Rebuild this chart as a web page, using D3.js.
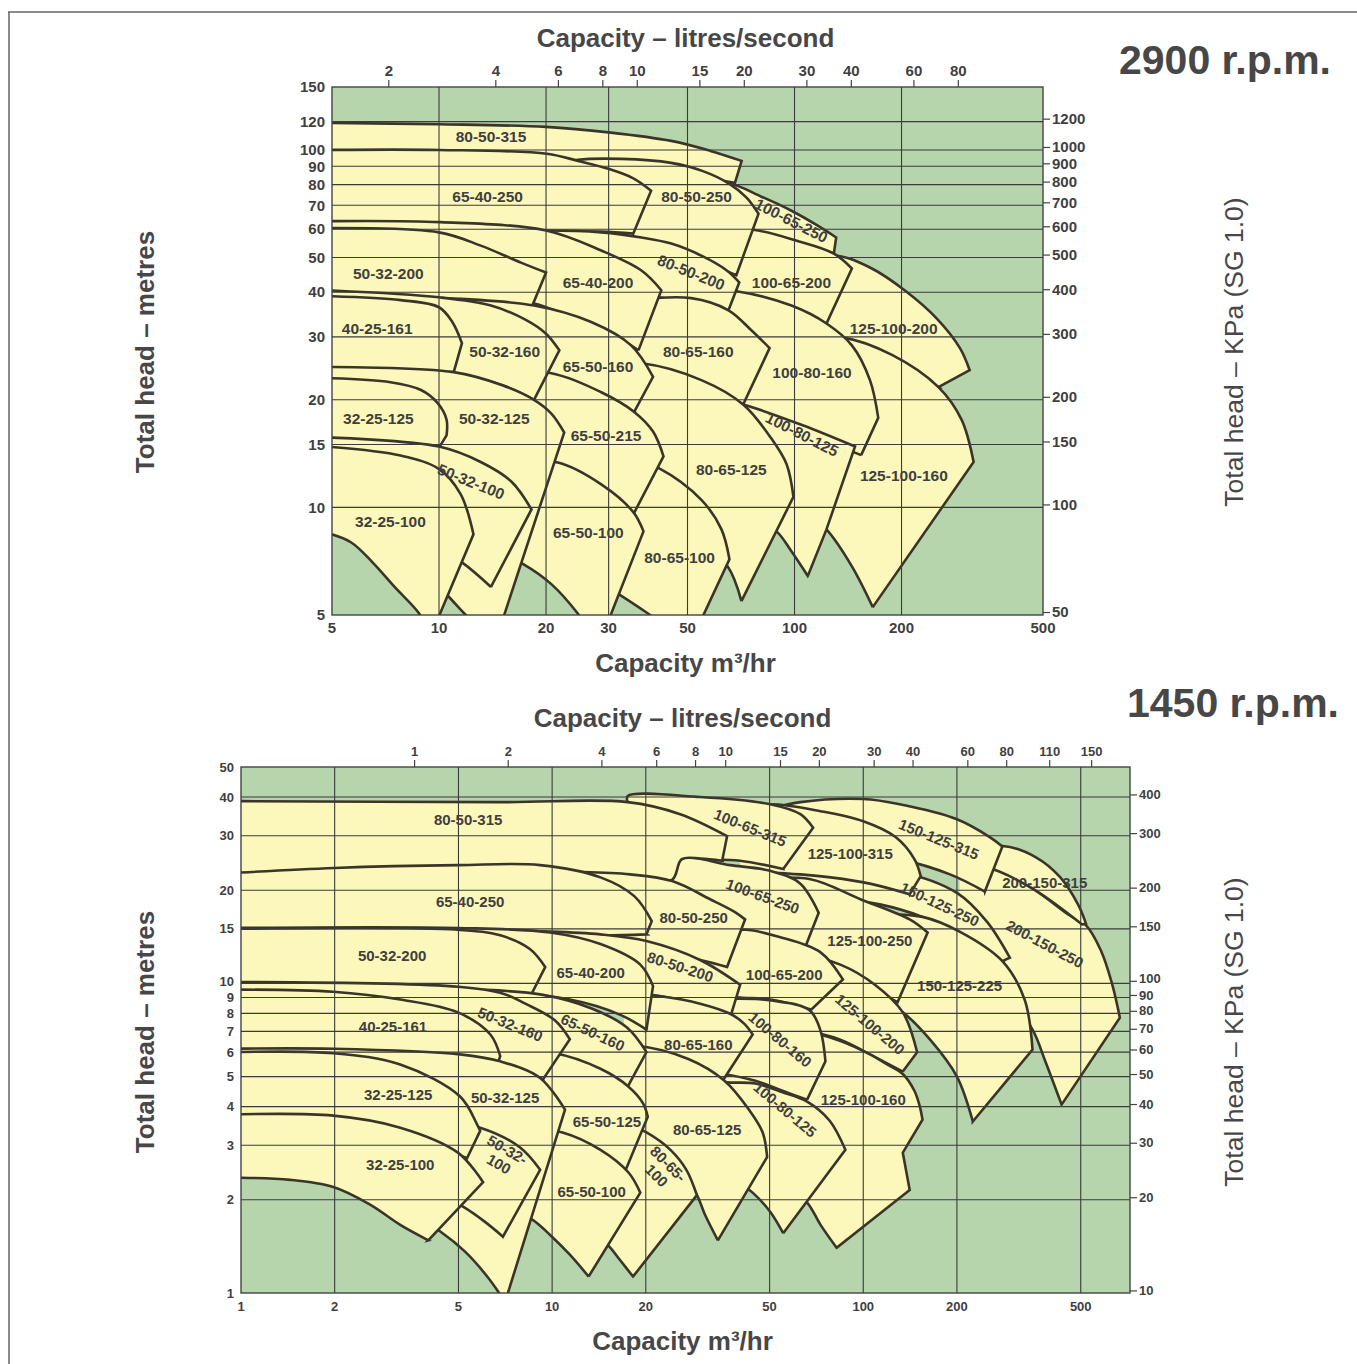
<!DOCTYPE html>
<html>
<head>
<meta charset="utf-8">
<script src="https://cdnjs.cloudflare.com/ajax/libs/d3/7.8.5/d3.min.js"></script>
<style>
  body { margin: 0; background: #fff; }
  svg text { font-family: "Liberation Sans", Arial, Helvetica, sans-serif; }
</style>
</head>
<body>
<svg id="chart" width="1357" height="1364"></svg>
<script>
// ---------------- 2900 r.p.m. ----------------
const q2900Ticks = [5, 10, 20, 30, 50, 100, 200, 500];
const h2900Ticks = [5, 10, 15, 20, 30, 40, 50, 60, 70, 80, 90, 100, 120, 150];
const q2900Grid = [10, 20, 30, 50, 100, 200];
const h2900Grid = [10, 15, 20, 30, 40, 50, 60, 70, 80, 90, 100, 120];
const ls2900Ticks = [2, 4, 6, 8, 10, 15, 20, 30, 40, 60, 80];
const kpa2900Ticks = [50, 100, 150, 200, 300, 400, 500, 600, 700, 800, 900, 1000, 1200];

// pump areas, back to front: max impeller curve (top), end-of-curve edge, min impeller curve (bottom)
const regions2900 = [
  { name: "125-100-200", top: [[105,48.4],[131,50.6],[165,46.6],[204,40.5],[251,33.8],[292,27.9],[311,24.2]], edge: [[254,21.7]], bottom: [[200,25],[154,28.4],[105,30.3]] },
  { name: "80-50-315", top: [[4.8,119],[10,118],[20,116],[30,112],[45,106],[58,99.4],[71,93.2]], edge: [[68,80.9]], bottom: [[55,83.3],[33,86.2],[15,88.4],[4.8,89.6]] },
  { name: "100-65-250", top: [[55,78.6],[65.6,80.4],[80.7,74],[98,67.6],[115,61.8],[131,56.9]], edge: [[129,51.3]], bottom: [[98,55.8],[77,58.8],[55,58.8]] },
  { name: "100-65-200", top: [[55,60],[76.5,59.8],[101,55.8],[129,51.3],[145,46.6]], edge: [[123,32.7]], bottom: [[92,35.6],[71,38],[55,39.2]] },
  { name: "80-50-250", top: [[19.4,88.4],[24.6,93.8],[32.6,94.4],[45,92],[55,87.4],[65.6,80.4],[73.3,73.6],[79.2,66.3]], edge: [[68.6,44.6]], bottom: [[55,48.4],[37.1,53],[25.1,55.8],[19.4,56.5]] },
  { name: "65-40-250", top: [[4.8,100],[10,100],[20.1,97.6],[24.6,93.2],[30.1,88.4],[35.2,83.3],[39.5,76.9]], edge: [[35.2,58.4]], bottom: [[28.6,59.1],[20,59.1],[10.1,60.2],[4.8,60.2]] },
  { name: "125-100-160", top: [[98,29.4],[136,29.9],[188,26.7],[254,21.7],[295,17.6],[319,13.4]], edge: [[166,5.26]], bottom: [[145,6.84],[123,8.68],[98,10.5]] },
  { name: "100-80-160", top: [[42.2,40.5],[54.7,40.7],[69.3,40.2],[98,36.7],[123,32.7],[145,28.4],[163,22.7],[172,17.8]], edge: [[154,14]], bottom: [[105,16.3],[71.7,19.1],[54.7,20.2],[42.2,20.6]] },
  { name: "80-50-200", top: [[10.1,58.4],[20,59.5],[28.6,58.8],[37.1,56.9],[45,54.7],[54.7,50.6],[64.5,46],[69.9,42.6]], edge: [[65.2,35.6]], bottom: [[51,37.4],[37,39.2],[20,40],[10.1,40.5]] },
  { name: "80-65-160", top: [[35,38],[51.2,38.5],[65.2,35.6],[75.6,31.3],[85.1,27.9]], edge: [[71.7,19.4]], bottom: [[54.7,22],[39.5,24.2],[35,24.5]] },
  { name: "65-40-200", top: [[4.8,63.2],[10.1,62.8],[20,59.5],[28.6,52.3],[37.1,46],[42.2,40.5]], edge: [[36.4,27.5]], bottom: [[28.6,31.7],[22.1,34.9],[18.5,37.2],[10.1,38.7],[4.8,38.5]] },
  { name: "50-32-200", top: [[4.8,60.5],[10,58.8],[13.1,54],[17,48.4],[20,45.4]], edge: [[17.6,33.4]], bottom: [[13.1,36.7],[10,38.5],[4.8,38]] },
  { name: "100-80-125", top: [[54.7,20.6],[71.7,19.4],[105,17],[148,14.8]], edge: [[123,8.68],[109,6.43]], bottom: [[98,7.54],[89,8.57],[75.6,9.44],[62.3,10.2]] },
  { name: "80-65-125", top: [[28.6,25],[37.1,25.3],[54.7,22.7],[71.7,19.4],[86,15.6],[95,13.2],[99.3,10.7]], edge: [[70.9,5.47]], bottom: [[64.8,6.84],[54.7,7.89],[42.2,8.97],[32.6,9.56]] },
  { name: "80-65-100", top: [[32.6,14],[41.4,12.9],[54.7,10.5],[62.3,8.68],[65.6,7.16]], edge: [[51.6,4.29]], bottom: [[45,4.55],[38.8,5.04],[31,5.83],[26.8,6.3]] },
  { name: "65-50-160", top: [[10.1,38.5],[18.5,36.7],[26.8,33],[34.7,28.4],[40,23.2]], edge: [[35.4,18.5]], bottom: [[28.6,20.6],[20.4,23.2],[10.1,24.2]] },
  { name: "65-50-215", top: [[11.5,24.2],[20.4,23.8],[28.6,21],[35.4,18.5],[40,16.3],[42.8,13.9]], edge: [[35.2,9.56]], bottom: [[28.6,11.2],[21.6,13.1],[15,13.6]] },
  { name: "65-50-100", top: [[17,13.4],[21.6,13.35],[28.6,11.6],[35.2,9.7],[37.6,8.57]], edge: [[30.5,5.04],[27.9,4.29]], bottom: [[26,4.65],[24.6,5.04],[20.7,6.1],[17.3,6.93],[15,7.4]] },
  { name: "50-32-160", top: [[4.8,40.5],[10,38.7],[14,36.7],[17.6,33.4],[20,30.6],[21.8,27.5]], edge: [[18.5,20]], bottom: [[15,22],[11,23.6],[4.8,23.5]] },
  { name: "40-25-161", top: [[4.8,39],[7.8,38],[10,36.3],[10.9,33],[11.6,28.8]], edge: [[11,23.9]], bottom: [[7.8,23.9],[4.8,23.9]] },
  { name: "50-32-125", top: [[4.8,24.7],[11,23.9],[15,22],[18.5,20],[20.7,18.3],[22.5,16.2]], edge: [[14.5,4.29]], bottom: [[13.1,4.55],[11.8,5.04],[10.6,5.65],[9.5,6.3],[7.8,7.16],[6.03,8.14],[4.8,9.13]] },
  { name: "32-25-125", top: [[4.8,23],[7.3,22.4],[8.9,21.3],[9.9,19.6],[10.5,17.6],[10.5,15.9]], edge: [[10,14.7]], bottom: [[7.8,14.9],[4.8,14.9]] },
  { name: "50-32-100", top: [[4.8,15.7],[10,14.8],[13.1,13.4],[16,11.8],[18.2,9.87]], edge: [[14,5.99]], bottom: [[11.6,7.02],[9.5,7.89],[6.86,8.68],[4.8,9.1]] },
  { name: "32-25-100", top: [[4.8,14.8],[7.8,13.96],[10,12.8],[11.5,10.9],[12.5,8.41]], edge: [[9.4,4.29]], bottom: [[9.1,4.68],[8.8,5.04],[7.5,5.99],[6.5,7.02],[5.65,7.99],[4.8,8.5]] }
];

// [text, m3/hr, head m, tilt]
const labels2900 = [
  ["80-50-315", 14, 109, 0], ["65-40-250", 13.7, 74, 0], ["80-50-250", 53, 74, 0],
  ["100-65-250", 98, 63.4, 27], ["80-50-200", 51.2, 45.4, 22], ["100-65-200", 98, 42.6, 0],
  ["50-32-200", 7.2, 45, 0], ["65-40-200", 28, 42.6, 0], ["125-100-200", 190, 31.7, 0],
  ["40-25-161", 6.7, 31.7, 0], ["50-32-160", 15.3, 27.3, 0], ["65-50-160", 28, 24.7, 0],
  ["80-65-160", 53.6, 27.2, 0], ["100-80-160", 112, 23.8, 0], ["32-25-125", 6.75, 17.7, 0],
  ["50-32-125", 14.3, 17.7, 0], ["65-50-215", 29.5, 15.9, 0], ["100-80-125", 105, 16, 27],
  ["80-65-125", 66.4, 12.8, 0], ["125-100-160", 203, 12.3, 0], ["50-32-100", 12.3, 11.8, 22],
  ["32-25-100", 7.3, 9.1, 0], ["65-50-100", 26.3, 8.5, 0], ["80-65-100", 47.5, 7.26, 0]
];

// ---------------- 1450 r.p.m. ----------------
const q1450Ticks = [1, 2, 5, 10, 20, 50, 100, 200, 500];
const h1450Ticks = [1, 2, 3, 4, 5, 6, 7, 8, 9, 10, 15, 20, 30, 40, 50];
const q1450Grid = [2, 5, 10, 20, 50, 100, 200, 500];
const h1450Grid = [2, 3, 4, 5, 6, 7, 8, 9, 10, 15, 20, 30, 40];
const ls1450Ticks = [1, 2, 4, 6, 8, 10, 15, 20, 30, 40, 60, 80, 110, 150];
const kpa1450Ticks = [10, 20, 30, 40, 50, 60, 70, 80, 90, 100, 150, 200, 300, 400];

const regions1450 = [
  { name: "200-150-250", top: [[204,21.7],[246,23.8],[343,20.5],[460,16.6],[520,15.4],[580,12.8],[630,10],[668,7.75]], edge: [[434,4.06]], bottom: [[383,5.67],[350,7.09],[296,8.87],[237,9.9],[204,10.3]] },
  { name: "200-150-315", top: [[204,25.7],[280,27.8],[360,25.5],[430,22],[490,18],[520,15.6]], edge: [[505,15.5]], bottom: [[343,20.5],[246,23.8],[204,24.1]] },
  { name: "150-125-315", top: [[50.2,36.6],[62.8,38.5],[100,39.4],[131,37.9],[200,33.9],[255,29.7],[280,27.7]], edge: [[246,19.8]], bottom: [[190,22.5],[131,25.2],[90.8,26.7],[62.8,28.2],[50.2,28.8]] },
  { name: "150-125-250", top: [[62.8,23.4],[90.8,23.4],[131,22.9],[200,19.6],[250,15.8],[296,12.1]], edge: [[280,11.8]], bottom: [[204,14.4],[155,16.4],[113,18],[84.4,18.7],[62.8,19]] },
  { name: "150-125-225", top: [[113,16.7],[155,16.4],[204,14.7],[280,11.8],[330,8.87],[350,6.11]], edge: [[225,3.58]], bottom: [[200,5],[164,6.58],[134,8.06],[113,8.87]] },
  { name: "125-100-315", top: [[40.2,36.6],[50.2,37.9],[72.9,36],[100,33.4],[127,29.7],[146,25.2],[153,22.2]], edge: [[141,19.4]], bottom: [[105,21],[78.5,22],[62.8,22.5],[40.2,23.1]] },
  { name: "125-100-250", top: [[46.7,21.7],[67.7,21.7],[97.9,18.7],[141,16.1],[161,14.6]], edge: [[129,8.7]], bottom: [[97.9,9.9],[72.9,10.7],[54.1,11.1]] },
  { name: "100-65-315", top: [[17.5,38.4],[17.5,40.3],[29.9,40],[50.2,37.9],[62.8,35.2],[69,31.8]], edge: [[55.3,23.4]], bottom: [[40.2,24.9],[29.9,25.2],[22.2,25.7],[17.5,25.7]] },
  { name: "125-100-200", top: [[46.7,12.4],[62.8,12.4],[84.4,11.5],[109,9.9],[134,8.06],[149,5.99]], edge: [[134,5.19]], bottom: [[105,5.9],[84.4,6.58],[62.8,7.09],[46.7,7.37]] },
  { name: "100-65-250", top: [[24.3,21.4],[26.1,25.2],[37.3,24.1],[50.2,23.1],[62.8,21],[71.9,16.9]], edge: [[65.1,13.1]], bottom: [[50.2,13.9],[34.7,14.7],[25.8,14.9],[22.2,14.9]] },
  { name: "100-65-200", top: [[33.4,14.4],[41.7,14.9],[54.1,14.1],[72.9,12.6],[86,10.3]], edge: [[68,8.23]], bottom: [[50.2,8.87],[40.2,9],[33.4,9.2]] },
  { name: "80-50-315", top: [[0.92,38.8],[6.81,38.5],[17.5,38.5],[25.8,35.2],[36.5,29.9]], edge: [[35.2,24.9]], bottom: [[30,25.3],[26.1,25.2],[24.3,21.6],[19.2,21.6],[14.3,22],[5.06,22.2],[0.92,22.2]] },
  { name: "80-50-250", top: [[9.15,22.9],[12.3,22.9],[17.8,22.5],[24.3,21.4],[32.2,18.7],[38.7,17],[41.7,16.1]], edge: [[36.5,11.3]], bottom: [[29.9,11.9],[22.2,12.4],[16.5,12.7],[10.6,12.9]] },
  { name: "65-40-250", top: [[0.92,22.7],[2,23.6],[4.98,24.1],[9.15,24.1],[14.3,22],[18.4,19.1],[20.9,15.9]], edge: [[20.1,14.4]], bottom: [[14.3,14.3],[9.85,14.5],[5.06,14.5],[0.92,14.5]] },
  { name: "125-100-160", top: [[35,7.4],[55,7.2],[70,6.9],[85,6.5],[105,5.9],[122,5.4],[134,5.1],[146,4.5],[152,4],[155,3.63]], edge: [[134,2.84],[141,2.15],[82.1,1.4]], bottom: [[72.9,1.66],[66,1.96],[58.3,2.15],[45,2.5],[35,2.8]] },
  { name: "100-80-160", top: [[25,8.6],[35,8.9],[45,8.9],[55,8.7],[62,8.5],[68,8.1],[73,7],[75.6,5.6]], edge: [[66,4.21]], bottom: [[55,4.5],[45,4.85],[35,5.1],[25,5.2]] },
  { name: "80-50-200", top: [[5.06,14.8],[9.85,14.7],[14.3,14.4],[20.1,13.7],[29.9,11.9],[40.2,9.9]], edge: [[37.6,7.93]], bottom: [[29.9,8.55],[20.6,9.2],[14.3,9.55],[5.06,9.7]] },
  { name: "80-65-160", top: [[17,9.3],[22,9.1],[29.9,8.6],[37.6,7.95],[41.5,7.4],[44.1,6.84]], edge: [[35.2,4.82]], bottom: [[27.4,5.45],[19.7,6],[17,6.1]] },
  { name: "65-40-200", top: [[0.92,15.1],[4.98,15.1],[9.85,14.6],[14.3,13.4],[19.2,11.5],[21.1,9.8]], edge: [[20.1,7.09]], bottom: [[16.5,7.93],[11.4,8.87],[5.06,9.55],[0.92,9.7]] },
  { name: "50-32-200", top: [[0.92,15],[4.98,14.9],[6.81,14.3],[8.5,12.9],[9.5,11.3]], edge: [[8.18,8.4]], bottom: [[6.33,9.2],[4.98,9.7],[0.92,9.9]] },
  { name: "100-80-125", top: [[27,5.1],[36,4.8],[45,4.75],[55,4.45],[66,4.15],[78,3.6],[87.6,2.9]], edge: [[55.3,1.56]], bottom: [[50.2,1.83],[44.1,2.11],[38.7,2.32],[30,2.6],[27,2.7]] },
  { name: "80-65-125", top: [[14.3,6.25],[18.5,6.3],[27.4,5.7],[35.8,4.85],[43,3.9],[47.5,3.3],[49.1,2.75]], edge: [[34.1,1.48]], bottom: [[31,1.79],[29.2,2.07],[26,2.45],[22,2.9],[18,3.2],[15,3.4]] },
  { name: "80-65-100", top: [[14,3.8],[16.5,3.6],[20.1,3.3],[24,2.9],[27,2.5],[29.2,2.07]], edge: [[18.2,1.13]], bottom: [[16.5,1.28],[15.3,1.41],[13.3,1.6],[12,1.7]] },
  { name: "65-50-160", top: [[5,9.6],[9.25,9.2],[13.4,8.3],[17.4,7.2],[20.1,6]], edge: [[17.5,4.64]], bottom: [[14.3,5.15],[10.2,5.8],[5,6.05]] },
  { name: "65-50-125", top: [[5.75,6.05],[10.2,5.95],[14.3,5.3],[17.6,4.64],[19.6,4.1],[20.3,3.71]], edge: [[17.1,2.45]], bottom: [[14.3,2.8],[10.8,3.27],[7.5,3.4]] },
  { name: "65-50-100", top: [[8.5,3.4],[10.8,3.3],[14.3,2.9],[17.6,2.45],[19.2,2.11]], edge: [[13.1,1.13]], bottom: [[11.4,1.33],[9.85,1.54],[8.68,1.72],[7.6,1.83]] },
  { name: "50-32-160", top: [[0.92,10.1],[5,9.75],[7,9.25],[8.2,8.6],[10.2,7.6],[11.4,6.6]], edge: [[9.35,4.9]], bottom: [[7.5,5.4],[5.5,5.8],[0.92,5.8]] },
  { name: "40-25-161", top: [[0.92,9.55],[1.98,9.4],[3.25,8.87],[4.98,8.06],[6.33,6.84],[6.81,5.82]], edge: [[6.7,5.55]], bottom: [[5.06,5.82],[3.25,5.9],[0.92,5.9]] },
  { name: "50-32-125", top: [[0.92,6.15],[1.98,6.15],[5.06,5.9],[6.81,5.6],[9.15,4.95],[11,3.91]], edge: [[7.06,0.935]], bottom: [[6.23,1.12],[5.25,1.36],[4.37,1.58],[3.62,1.77],[2.8,1.97],[1.98,2.25],[0.92,2.39]] },
  { name: "50-32-100", top: [[4.37,3.58],[5.87,3.42],[7.89,2.95],[9.15,2.5]], edge: [[6.95,1.52]], bottom: [[6.07,1.7],[5.17,1.9],[4.37,2.07],[3.76,2.24]] },
  { name: "32-25-125", top: [[0.92,5.99],[1.98,5.95],[3.25,5.47],[5.06,4.31],[5.74,3.5],[5.87,3.34]], edge: [[5.33,2.73]], bottom: [[4.37,2.9],[3.25,3.13],[1.98,3.58],[0.92,3.63]] },
  { name: "32-25-100", top: [[0.92,3.77],[1.98,3.74],[3.25,3.42],[4.98,2.84],[6,2.28]], edge: [[4,1.48]], bottom: [[3.25,1.66],[2.6,1.93],[1.98,2.2],[1.44,2.32],[0.92,2.36]] }
];

const labels1450 = [
  ["80-50-315", 5.37, 33.9, 0], ["100-65-315", 43.3, 31.8, 22], ["125-100-315", 90.8, 26.2, 0],
  ["150-125-315", 175, 29.2, 22], ["200-150-315", 383, 21.2, 0], ["65-40-250", 5.45, 18.3, 0],
  ["100-65-250", 47.5, 19.1, 20], ["80-50-250", 28.5, 16.3, 0], ["125-100-250", 105, 13.7, 0],
  ["150-125-250", 176, 18, 25], ["200-150-250", 383, 13.4, 28], ["50-32-200", 3.06, 12.3, 0],
  ["65-40-200", 13.3, 10.8, 0], ["80-50-200", 25.8, 11.3, 18], ["100-65-200", 55.7, 10.7, 0],
  ["150-125-225", 204, 9.8, 0], ["125-100-200", 105, 7.37, 40], ["40-25-161", 3.08, 7.26, 0],
  ["50-32-160", 7.33, 7.37, 22], ["65-50-160", 13.5, 6.94, 25], ["80-65-160", 29.5, 6.35, 0],
  ["100-80-160", 54, 6.58, 40], ["125-100-160", 100, 4.21, 0], ["32-25-125", 3.2, 4.37, 0],
  ["50-32-125", 7.06, 4.28, 0], ["65-50-125", 15, 3.58, 0], ["80-65-125", 31.5, 3.37, 0],
  ["100-80-125", 56, 3.91, 40], ["32-25-100", 3.25, 2.6, 0], ["50-32-\n100", 6.95, 2.75, 30],
  ["65-50-100", 13.4, 2.12, 0], ["80-65-\n100", 22.6, 2.5, 45]
];

// ---------------- drawing ----------------
const svg = d3.select("#chart");
const GREEN = "#b6d5ad", YELLOW = "#fcf7bb", INK = "#3a3528", TXT = "#3f3f3f";

// page frame of the scanned sheet
svg.append("line").attr("x1", 8).attr("y1", 12).attr("x2", 1357).attr("y2", 12).attr("stroke", "#666").attr("stroke-width", 1.5);
svg.append("line").attr("x1", 9).attr("y1", 12).attr("x2", 9).attr("y2", 1364).attr("stroke", "#666").attr("stroke-width", 1.5);

function drawPanel(p) {
  const x = d3.scaleLog().domain(p.qDomain).range([p.left, p.right]);
  const y = d3.scaleLog().domain(p.hDomain).range([p.bottom, p.top]);
  const g = svg.append("g");

  const clipId = "clip" + p.id;
  svg.append("clipPath").attr("id", clipId).append("rect")
    .attr("x", p.left).attr("y", p.top).attr("width", p.right - p.left).attr("height", p.bottom - p.top);

  g.append("rect").attr("x", p.left).attr("y", p.top)
    .attr("width", p.right - p.left).attr("height", p.bottom - p.top).attr("fill", GREEN);

  const curve = d3.line().x(d => x(d[0])).y(d => y(d[1])).curve(d3.curveCatmullRom.alpha(0.5));
  // open outline: top curve, end edge, bottom curve (the hidden left side is not stroked)
  const outline = r => {
    let s = curve(r.top);
    r.edge.forEach(pt => { s += "L" + x(pt[0]) + "," + y(pt[1]); });
    const B = r.edge[r.edge.length - 1];
    return s + curve([B].concat(r.bottom)).replace(/^M/, "L");
  };

  const areas = g.append("g").attr("clip-path", `url(#${clipId})`);
  const reg = areas.selectAll("g").data(p.regions).join("g");
  reg.append("path").attr("d", d => outline(d) + "Z").attr("fill", YELLOW);
  reg.append("path").attr("d", outline).attr("fill", "none")
    .attr("stroke", INK).attr("stroke-width", 2.6).attr("stroke-linejoin", "miter");

  // grid
  const grid = g.append("g").attr("stroke", "#3b3b3b").attr("stroke-width", 1.1);
  grid.selectAll("line.v").data(p.qGrid).join("line").attr("class", "v")
    .attr("x1", d => x(d)).attr("x2", d => x(d)).attr("y1", p.top).attr("y2", p.bottom);
  grid.selectAll("line.h").data(p.hGrid).join("line").attr("class", "h")
    .attr("y1", d => y(d)).attr("y2", d => y(d)).attr("x1", p.left).attr("x2", p.right);
  g.append("rect").attr("x", p.left).attr("y", p.top)
    .attr("width", p.right - p.left).attr("height", p.bottom - p.top)
    .attr("fill", "none").attr("stroke", "#444").attr("stroke-width", 1.4);

  // region labels
  const lab = g.append("g").attr("font-size", p.labelSize).attr("font-weight", "bold").attr("fill", TXT)
    .attr("text-anchor", "middle");
  p.labels.forEach(([t, q, h, a]) => {
    const lines = t.split("\n");
    const tx = lab.append("text").attr("transform", `translate(${x(q)},${y(h)}) rotate(${a})`);
    lines.forEach((ln, i) => {
      tx.append("tspan").attr("x", 0)
        .attr("dy", i === 0 ? (0.35 - (lines.length - 1) * 0.55) + "em" : "1.1em").text(ln);
    });
  });

  // axes
  const axisTxt = g.append("g").attr("font-size", p.tickSize).attr("font-weight", "bold").attr("fill", TXT);
  axisTxt.selectAll("text.hl").data(p.hTicks).join("text").attr("class", "hl")
    .attr("x", p.left - 7).attr("y", d => y(d) - (d === p.nudge ? 2 : 0)).attr("dy", "0.35em")
    .attr("text-anchor", "end").text(d => d);
  axisTxt.selectAll("text.ql").data(p.qTicks).join("text").attr("class", "ql")
    .attr("x", d => x(d)).attr("y", p.bottom + 18).attr("text-anchor", "middle").text(d => d);

  const lsAxis = g.append("g").attr("transform", `translate(0,${p.top})`)
    .call(d3.axisTop(d3.scaleLog().domain(p.qDomain.map(v => v / 3.6)).range([p.left, p.right]))
      .tickValues(p.lsTicks).tickFormat(d => d).tickSize(7).tickPadding(4));
  lsAxis.select(".domain").remove();
  lsAxis.selectAll("line").attr("stroke", "#444").attr("stroke-width", 1.2);
  lsAxis.selectAll("text").attr("font-size", p.tickSize).attr("font-weight", "bold").attr("fill", TXT)
    .attr("font-family", "Liberation Sans, Arial, sans-serif");

  const kpaAxis = g.append("g").attr("transform", `translate(${p.right},0)`)
    .call(d3.axisRight(d3.scaleLog().domain(p.hDomain.map(v => v * 9.81)).range([p.bottom, p.top]))
      .tickValues(p.kpaTicks).tickFormat(d => d).tickSize(7).tickPadding(2));
  kpaAxis.select(".domain").remove();
  kpaAxis.selectAll("line").attr("stroke", "#444").attr("stroke-width", 1.2);
  kpaAxis.selectAll("text").attr("font-size", p.tickSize).attr("font-weight", "bold").attr("fill", TXT)
    .attr("font-family", "Liberation Sans, Arial, sans-serif")
    .attr("transform", d => d === p.kpaNudge ? "translate(0,-2)" : null);

  // titles
  const tt = g.append("g").attr("fill", "#474747").attr("font-weight", "bold").attr("font-size", 26)
    .attr("text-anchor", "middle");
  tt.append("text").attr("x", (p.left + p.right) / 2 - p.titleShift).attr("y", p.top - 40).text("Capacity – litres/second");
  tt.append("text").attr("x", (p.left + p.right) / 2 - p.titleShift).attr("y", p.bottom + 57).text("Capacity m³/hr");
  tt.append("text").attr("transform", `translate(154,${p.midY}) rotate(-90)`).text("Total head – metres");
  tt.append("text").attr("transform", `translate(1243,${p.midY}) rotate(-90)`)
    .attr("font-weight", "normal").attr("font-size", 26.5).text("Total head – KPa (SG 1.0)");
  tt.append("text").attr("x", p.rpmX).attr("y", p.rpmY).attr("font-size", 41).text(p.rpm);
}

drawPanel({
  id: "a", left: 332, right: 1043, top: 87, bottom: 615,
  qDomain: [5, 500], hDomain: [5, 150],
  qTicks: q2900Ticks, hTicks: h2900Ticks, qGrid: q2900Grid, hGrid: h2900Grid,
  lsTicks: ls2900Ticks, kpaTicks: kpa2900Ticks,
  regions: regions2900, labels: labels2900, labelSize: 15.5, tickSize: 15,
  rpm: "2900 r.p.m.", rpmX: 1225, rpmY: 74, titleShift: 2, midY: 352
});

drawPanel({
  id: "b", left: 241, right: 1130, top: 767, bottom: 1293,
  qDomain: [1, 720], hDomain: [1, 50],
  qTicks: q1450Ticks, hTicks: h1450Ticks, qGrid: q1450Grid, hGrid: h1450Grid,
  lsTicks: ls1450Ticks, kpaTicks: kpa1450Ticks,
  regions: regions1450, labels: labels1450, labelSize: 15, tickSize: 13,
  nudge: 10, kpaNudge: 100,
  rpm: "1450 r.p.m.", rpmX: 1233, rpmY: 717, titleShift: 3, midY: 1032
});
</script>
</body>
</html>
